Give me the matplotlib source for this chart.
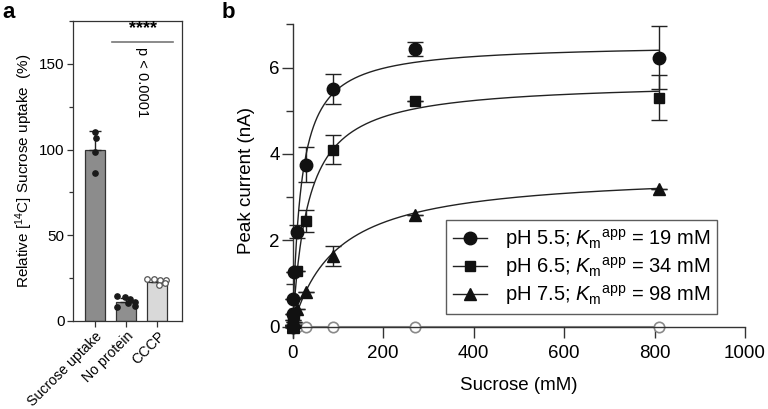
import numpy as np
import matplotlib
matplotlib.use("Agg")
import matplotlib.pyplot as plt
from matplotlib.ticker import MultipleLocator
from matplotlib.lines import Line2D

plt.rcParams['font.family'] = ['Liberation Sans', 'DejaVu Sans']
plt.rcParams['mathtext.fontset'] = 'custom'
plt.rcParams['mathtext.rm'] = 'Liberation Sans'
plt.rcParams['mathtext.it'] = 'Liberation Sans:italic'
plt.rcParams['mathtext.bf'] = 'Liberation Sans:bold'

# ---------------- Panel a data ----------------
a_categories = ["Sucrose uptake", "No protein", "CCCP"]
a_means = [100, 11, 23]
a_err = [10.6, 2.5, 1.3]
a_colors = ["#8c8c8c", "#8f8f8f", "#d9d9d9"]
a_pts_sucrose = [110.1, 106.8, 98.4, 86.3]
a_pts_sucrose_dx = [0.0, 0.03, 0.0, 0.0]
a_pts_noprot = [14.5, 14.2, 12.7, 11.3, 10.3, 8.8, 8.4]
a_pts_noprot_dx = [-0.3, -0.05, 0.12, 0.27, 0.05, 0.27, -0.3]
a_pts_cccp = [24.4, 24.4, 24.0, 24.0, 21.0, 22.0]
a_pts_cccp_dx = [-0.32, -0.12, 0.1, 0.28, 0.05, 0.25]

# ---------------- Panel b data ----------------
conc = [0, 0.3, 1, 3, 10, 30, 90, 270, 810]
ph55 = [0.0, 0.3, 0.65, 1.27, 2.2, 3.75, 5.5, 6.43, 6.23]
ph55_err = [0, 0, 0, 0, 0.15, 0.41, 0.35, 0.17, 0.72]
ph65 = [0.0, 0.05, 0.15, 0.3, 1.3, 2.45, 4.1, 5.22, 5.3]
ph65_err = [0, 0, 0, 0, 0.0, 0.25, 0.33, 0.0, 0.52]
ph75 = [0.0, 0.02, 0.05, 0.12, 0.4, 0.8, 1.63, 2.58, 3.18]
ph75_err = [0, 0, 0, 0, 0.0, 0.0, 0.23, 0.0, 0.0]
ctrl = [0, 0, 0, 0, 0, 0, 0, 0, 0]
fit_km = [19, 34, 98]
fit_vmax = [6.55, 5.68, 3.59]
legend_labels = [r"pH 5.5; $K_\mathrm{m}$$^\mathrm{app}$ = 19 mM",
                 r"pH 6.5; $K_\mathrm{m}$$^\mathrm{app}$ = 34 mM",
                 r"pH 7.5; $K_\mathrm{m}$$^\mathrm{app}$ = 98 mM"]

W, H = 768, 409
fig = plt.figure(figsize=(W / 100, H / 100), dpi=100)

def ax_rect(l, t, r, b):
    return [l / W, (H - b) / H, (r - l) / W, (b - t) / H]

spine_col = "#333333"

# ================= Panel a =================
axa = fig.add_axes(ax_rect(73, 21, 182, 321))
xa = np.arange(len(a_categories))
axa.bar(xa, a_means, width=0.64, color=a_colors, edgecolor="#333333", linewidth=0.9, zorder=2)
axa.errorbar(xa, a_means, yerr=[np.zeros(3), a_err], fmt='none', ecolor="#222222",
             elinewidth=1, capsize=4, capthick=1, zorder=3)
axa.plot(xa[0] + np.array(a_pts_sucrose_dx), a_pts_sucrose, 'o', color="#1a1a1a", ms=3.8, zorder=4)
axa.plot(xa[1] + np.array(a_pts_noprot_dx), a_pts_noprot, 'o', color="#1a1a1a", ms=3.8, zorder=4)
axa.plot(xa[2] + np.array(a_pts_cccp_dx), a_pts_cccp, 'o', mfc="white", mec="#555555",
         mew=0.9, ms=4.0, zorder=4)
axa.set_xlim(-0.705, 2.79)
axa.set_ylim(0, 175)
axa.yaxis.set_major_locator(MultipleLocator(50))
axa.yaxis.set_minor_locator(MultipleLocator(25))
axa.set_xticks(xa)
axa.set_xticklabels(a_categories, rotation=45, ha="right", rotation_mode="anchor", fontsize=10.2)
axa.tick_params(axis='y', which='major', length=4.5, width=0.9, labelsize=11, pad=1.5, color=spine_col)
axa.tick_params(axis='y', which='minor', length=3, width=0.9, color=spine_col)
axa.tick_params(axis='x', which='major', length=4.5, width=0.9, pad=1.5, color=spine_col)
for s in axa.spines.values():
    s.set_color(spine_col)
    s.set_linewidth(0.9)
axa.set_ylabel(r"Relative [$^{14}$C] Sucrose uptake  (%)", fontsize=11, labelpad=3)
# significance
axa.plot([0.545, 2.5], [162.6, 162.6], color="#777777", lw=1.2, clip_on=False)
axa.text(1.55, 165.5, "****", ha="center", va="bottom", fontsize=13, fontweight="bold")
axa.text(1.5, 139.5, "p < 0.0001", rotation=270, ha="center", va="center", fontsize=10.5)

# ================= Panel b =================
axb = fig.add_axes(ax_rect(292.7, 24.3, 745, 337.5))
xf = np.linspace(0, 810, 600)
for km, vm in zip(fit_km, fit_vmax):
    axb.plot(xf, vm * xf / (km + xf), color="#222222", lw=1.0, zorder=3)
axb.plot(conc, ctrl, '-o', color="#8a8a8a", mfc="white", mec="#8a8a8a", mew=1.2, ms=7.5,
         lw=1.5, zorder=2, clip_on=False)
axb.errorbar(conc, ph55, yerr=ph55_err, fmt='o', color="#111111", ms=9, ecolor="#222222",
             elinewidth=1, capsize=6, capthick=1, zorder=5, clip_on=False)
axb.errorbar(conc, ph65, yerr=ph65_err, fmt='s', color="#111111", ms=7, ecolor="#222222",
             elinewidth=1, capsize=6, capthick=1, zorder=5, clip_on=False)
axb.errorbar(conc, ph75, yerr=ph75_err, fmt='^', color="#111111", ms=8, ecolor="#222222",
             elinewidth=1, capsize=6, capthick=1, zorder=5, clip_on=False)
axb.set_xlim(0, 1000)
axb.set_ylim(-0.25, 7)
axb.spines['top'].set_visible(False)
axb.spines['right'].set_visible(False)
axb.spines['bottom'].set_position(('data', 0))
for s in axb.spines.values():
    s.set_color(spine_col)
    s.set_linewidth(1.0)
axb.xaxis.set_major_locator(MultipleLocator(200))
axb.yaxis.set_major_locator(MultipleLocator(2))
axb.yaxis.set_minor_locator(MultipleLocator(1))
axb.tick_params(axis='x', which='major', length=8, width=1, labelsize=13.5, pad=5, color=spine_col)
axb.tick_params(axis='y', which='major', length=8, width=1, labelsize=13.5, pad=1.5, color=spine_col)
axb.tick_params(axis='y', which='minor', length=5, width=1, color=spine_col)
axb.set_xlabel("Sucrose (mM)", fontsize=13.5, labelpad=11)
axb.set_ylabel("Peak current (nA)", fontsize=13.5, labelpad=10)

handles = [Line2D([], [], color="#222222", lw=1, marker=m, ms=s, mfc="#111111", mec="#111111")
           for m, s in zip(['o', 's', '^'], [9, 7, 8])]
leg = axb.legend(handles, legend_labels, loc="upper left", bbox_to_anchor=(0.338, 0.375),
                 borderaxespad=0, fontsize=14.5, frameon=True, fancybox=False,
                 handlelength=1.7, handletextpad=0.9, borderpad=0.35, labelspacing=0.2)
leg.get_frame().set_edgecolor("#333333")
leg.get_frame().set_linewidth(1.0)
leg.set_zorder(10)

fig.text(2 / W, 1 - 2 / H, "a", fontsize=16, fontweight="bold", ha="left", va="top")
fig.text(222 / W, 1 - 2 / H, "b", fontsize=16, fontweight="bold", ha="left", va="top")

fig.savefig("out.png", dpi=100)
